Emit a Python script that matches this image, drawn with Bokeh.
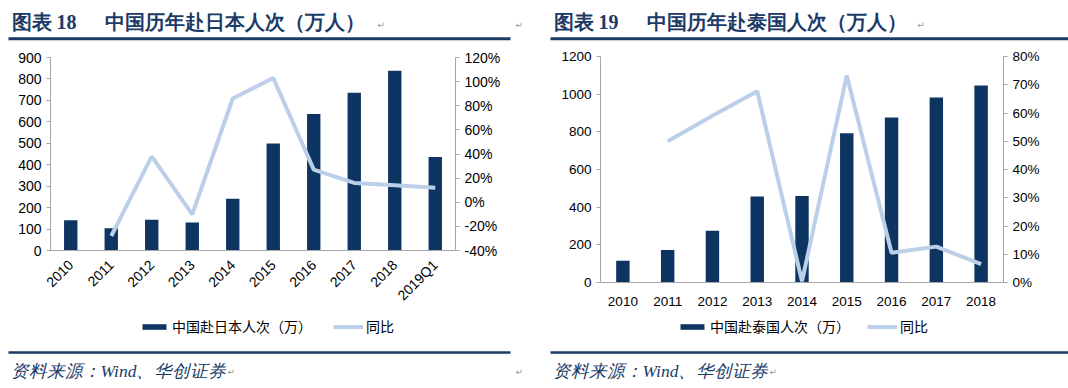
import math
from bokeh.plotting import figure
from bokeh.models import (Range1d, LinearAxis, FactorRange, Legend, LegendItem,
                          SingleIntervalTicker, PrintfTickFormatter, Label)
from bokeh.layouts import row, column
from bokeh.embed import file_html
from bokeh.resources import INLINE

NAN = float("nan")

# ---- data: Japan ----
jp_years = ["2010", "2011", "2012", "2013", "2014", "2015", "2016", "2017", "2018", "2019Q1"]
jp_visitors = [141, 104, 143, 131, 241, 499, 637, 736, 838, 436]
jp_yoy = [NAN, -28, 38, -10, 86, 103, 27, 16, 14, 12]

# ---- data: Thailand ----
th_years = ["2010", "2011", "2012", "2013", "2014", "2015", "2016", "2017", "2018"]
th_visitors = [115, 172, 275, 457, 459, 792, 876, 982, 1046]
th_yoy = [NAN, 50, 59, 67.7, 0.4, 73.3, 10.5, 12.7, 6.5]

jp_title_no = "图表 18"
jp_title = "中国历年赴日本人次（万人）"
th_title_no = "图表 19"
th_title = "中国历年赴泰国人次（万人）"
jp_bar_label = "中国赴日本人次（万）"
th_bar_label = "中国赴泰国人次（万）"
line_label = "同比"
source = "资料来源：Wind、华创证券"

NAVY = "#0E3462"
TITLE_C = "#1B3A66"
LINE_C = "#BBD0E8"
AXIS_C = "#A6A6A6"
PW = 534
HEAD_H = 48
CHART_H = 264
FOOT_H = 76


def blank(h):
    p = figure(width=PW, height=h, x_range=Range1d(0, PW), y_range=Range1d(h, 0),
               output_backend="svg", toolbar_location=None, min_border=0,
               x_axis_type=None, y_axis_type=None, frame_align=False)
    p.outline_line_color = None
    p.grid.visible = False
    return p


def mark(p, x, y):
    p.add_layout(Label(x=x, y=y, text="↵", text_font="DejaVu Sans",
                       text_font_size="9px", text_color="#9A9A9A",
                       text_baseline="middle"))


def header(no, title, x_no, x_title, rule_x0, rule_x1, mark_xs):
    p = blank(HEAD_H)
    for x, t in ((x_no, no), (x_title, title)):
        p.add_layout(Label(x=x, y=21.5, text=t, text_font="Liberation Serif",
                           text_font_style="bold", text_font_size="20px",
                           text_color=TITLE_C, text_baseline="middle"))
    for mx in mark_xs:
        mark(p, mx, 24)
    p.segment(x0=[rule_x0], y0=[38.2], x1=[rule_x1], y1=[38.2],
              line_color=TITLE_C, line_width=3)
    return p


def footer(bar_label, leg_x, leg_spacing, rule_x0, rule_x1, text_x, mark_xs):
    p = blank(FOOT_H)
    # legend swatches only (a single empty row, nothing drawn in the plot)
    r_bar = p.vbar(x=[NAN], top=[NAN], width=1, fill_color=NAVY, line_color=None)
    r_line = p.line(x=[NAN], y=[NAN], line_color=LINE_C, line_width=4)
    legend = Legend(items=[LegendItem(label=bar_label, renderers=[r_bar]),
                           LegendItem(label=line_label, renderers=[r_line])],
                    location=(leg_x, FOOT_H - 24), orientation="horizontal",
                    border_line_color=None, background_fill_alpha=0,
                    padding=0, margin=0, spacing=leg_spacing, label_standoff=3,
                    glyph_width=30, glyph_height=7, label_height=16,
                    label_text_font="Noto Sans CJK SC", label_text_font_size="14px",
                    label_text_color="#000000", label_text_baseline="middle")
    p.add_layout(legend)
    p.segment(x0=[rule_x0], y0=[40], x1=[rule_x1], y1=[40], line_color=TITLE_C, line_width=2.5)
    p.add_layout(Label(x=text_x, y=58, text=source, text_font="Liberation Serif",
                       text_font_style="italic", text_font_size="17.5px",
                       text_color=TITLE_C, text_baseline="middle"))
    for mx in mark_xs:
        mark(p, mx, 59)
    return p


def chart(cats, vals, yoy, y_max, y_step, r_min, r_max, r_step, bl, br, bt, bb,
          rot, fsize, bar_w, x_standoff):
    p = figure(width=PW, height=CHART_H, x_range=FactorRange(*cats), y_range=Range1d(0, y_max),
               output_backend="svg", toolbar_location=None, frame_align=False,
               min_border_left=bl, min_border_right=br, min_border_top=bt,
               min_border_bottom=bb)
    p.outline_line_color = None
    p.grid.visible = False
    p.extra_y_ranges = {"pct": Range1d(r_min, r_max)}
    p.vbar(x=cats, top=vals, width=bar_w, fill_color=NAVY, line_color=None)
    p.line(x=cats, y=yoy, y_range_name="pct", line_color=LINE_C, line_width=4)

    yax = p.yaxis[0]
    yax.ticker = SingleIntervalTicker(interval=y_step, num_minor_ticks=0)
    rax = LinearAxis(y_range_name="pct",
                     ticker=SingleIntervalTicker(interval=r_step, num_minor_ticks=0),
                     formatter=PrintfTickFormatter(format="%d%%"))
    p.add_layout(rax, "right")
    for ax in (yax, rax):
        ax.axis_line_color = AXIS_C
        ax.major_tick_line_color = AXIS_C
        ax.major_tick_in = 0
        ax.major_tick_out = 4
        ax.minor_tick_line_color = None
        ax.major_label_text_font = "Liberation Sans"
        ax.major_label_text_font_size = fsize
        ax.major_label_text_color = "#000000"
        ax.major_label_standoff = 5
    xax = p.xaxis[0]
    xax.axis_line_color = AXIS_C
    xax.major_tick_line_color = None
    xax.minor_tick_line_color = None
    xax.major_label_text_font = "Liberation Sans"
    xax.major_label_text_font_size = fsize
    xax.major_label_text_color = "#000000"
    xax.major_label_standoff = x_standoff
    if rot:
        xax.major_label_orientation = math.pi / 4
    return p


jp_head = header(jp_title_no, jp_title, 11, 104, 8, 510, [377, 515])
jp_chart = chart(jp_years, jp_visitors, jp_yoy, 900, 100, -40, 120, 20,
                 50, 79, 9, CHART_H - 9 - 194, True, "14px", 0.33, 6)
jp_foot = footer(jp_bar_label, 139, 21, 8, 510, 10, [227, 515])

th_head = header(th_title_no, th_title, 19, 112, 16, PW, [383])
th_chart = chart(th_years, th_visitors, th_yoy, 1200, 200, 0, 80, 10,
                 66, 65, 8, CHART_H - 8 - 226, False, "13.5px", 0.30, 8)
th_foot = footer(th_bar_label, 143, 17, 16, PW, 18, [235])

layout = row(column(jp_head, jp_chart, jp_foot, spacing=0),
             column(th_head, th_chart, th_foot, spacing=0), spacing=0)

open("out.html", "w").write(file_html(layout, INLINE))
